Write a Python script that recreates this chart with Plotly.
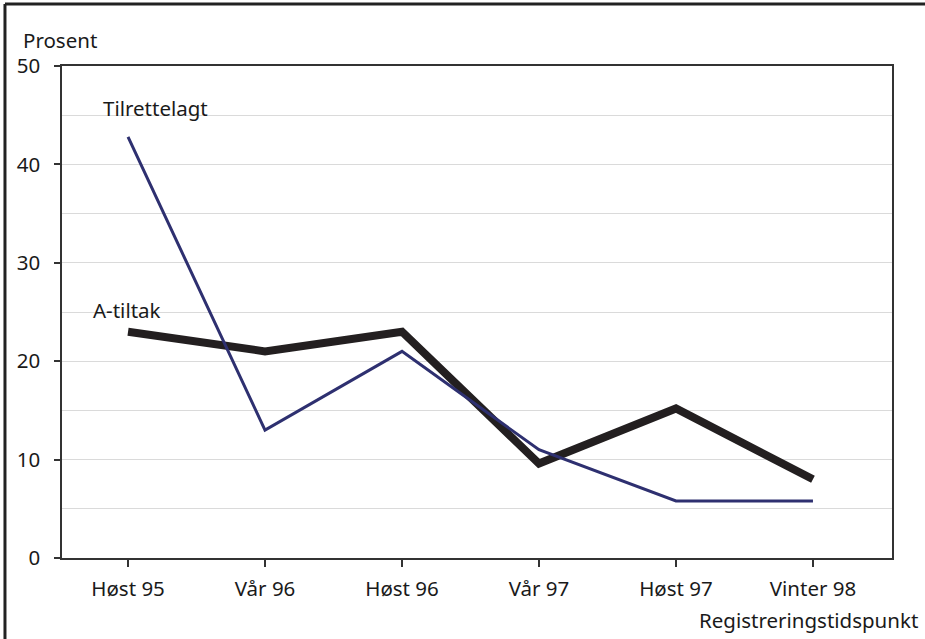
import plotly.graph_objects as go

# Registration points and shares (percent)
periods = ["Høst 95", "Vår 96", "Høst 96", "Vår 97", "Høst 97", "Vinter 98"]
a_tiltak = [23.0, 21.0, 23.0, 9.6, 15.2, 8.0]
tilrettelagt = [42.8, 13.0, 21.0, 11.0, 5.8, 5.8]

FONT = "Noto Sans"
FS = 20.5
x_idx = list(range(len(periods)))

fig = go.Figure()

# A-tiltak: thick black line, drawn first so the thin one sits on top
fig.add_trace(go.Scatter(
    x=x_idx, y=a_tiltak, mode="lines", name="A-tiltak",
    line=dict(color="#231f20", width=8),
    hoverinfo="skip",
))
fig.add_trace(go.Scatter(
    x=x_idx, y=tilrettelagt, mode="lines", name="Tilrettelagt",
    line=dict(color="#2e3070", width=3),
    hoverinfo="skip",
))

fig.update_xaxes(
    range=[-0.482, 5.577],
    tickvals=x_idx, ticktext=periods,
    ticks="outside", ticklen=7, tickwidth=2, tickcolor="#333",
    showgrid=False, zeroline=False,
    showline=True, linecolor="#333", linewidth=1.5, mirror=True,
    tickfont=dict(family=FONT, size=FS, color="#1a1a1a"),
    ticklabelstandoff=5,
)
fig.update_yaxes(
    range=[0, 50], dtick=10,
    ticks="outside", ticklen=6, tickwidth=1.5, tickcolor="#333",
    showgrid=True, gridcolor="#dadada", gridwidth=1,
    minor=dict(dtick=5, showgrid=True, gridcolor="#dadada", gridwidth=1),
    zeroline=False,
    showline=True, linecolor="#333", linewidth=1.5, mirror=True,
    tickfont=dict(family=FONT, size=FS, color="#1a1a1a"),
    ticklabelstandoff=10,
)

fig.update_layout(
    width=925, height=639,
    margin=dict(l=62, r=33, t=66, b=81),
    paper_bgcolor="white", plot_bgcolor="white",
    showlegend=False,
    font=dict(family=FONT, size=FS, color="#1a1a1a"),
    annotations=[
        dict(text="Prosent", xref="paper", yref="paper", x=-0.05, y=1.052,
             xanchor="left", yanchor="middle", showarrow=False,
             font=dict(family=FONT, size=FS)),
        dict(text="Registreringstidspunkt", xref="paper", yref="paper",
             x=1.034, y=-0.126, xanchor="right", yanchor="middle",
             showarrow=False, font=dict(family=FONT, size=FS)),
        dict(text="Tilrettelagt", xref="x", yref="y", x=0.2, y=45.7,
             xanchor="center", yanchor="middle", showarrow=False,
             font=dict(family=FONT, size=FS)),
        dict(text="A-tiltak", xref="x", yref="y", x=-0.01, y=25.2,
             xanchor="center", yanchor="middle", showarrow=False,
             font=dict(family=FONT, size=FS)),
    ],
    shapes=[
        # outer frame (left and top edges)
        dict(type="line", xref="paper", yref="paper",
             x0=-0.0687, y0=-0.2, x1=-0.0687, y1=1.126,
             line=dict(color="#222", width=3)),
        dict(type="line", xref="paper", yref="paper",
             x0=-0.0687, y0=1.126, x1=1.1, y1=1.126,
             line=dict(color="#222", width=3)),
    ],
)

fig.write_html(
    "out.html",
    config={"displayModeBar": False},
    post_script="document.body.style.margin='0';",
)
